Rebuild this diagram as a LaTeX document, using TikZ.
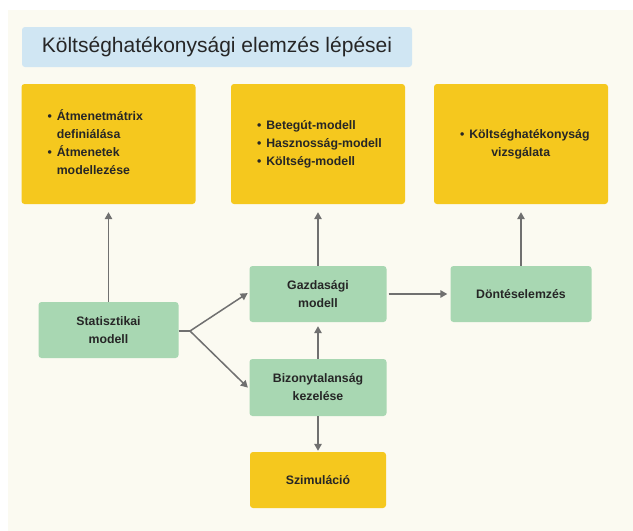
\documentclass[tikz,border=0pt]{standalone}
\usepackage{fontspec}
\setmainfont{Liberation Sans}
\usetikzlibrary{arrows.meta}
\definecolor{panel}{HTML}{FBFAF1}
\definecolor{titlebg}{HTML}{D0E6F3}
\definecolor{stepyellow}{HTML}{F5C81E}
\definecolor{stepgreen}{HTML}{A8D7B2}
\definecolor{linkgray}{HTML}{707070}
\definecolor{ink}{HTML}{262626}
\tikzset{
  box/.style={rounded corners=3pt, inner sep=0pt, text=ink,
    font=\fontsize{12.3}{18}\selectfont\bfseries},
  yellowbox/.style={box, fill=stepyellow, minimum width=174pt, minimum height=120pt,
    text width=122pt, align=left},
  greenbox/.style={box, fill=stepgreen, minimum height=56pt, align=center},
  link/.style={draw=linkgray, line width=1.5pt,
    -{Triangle[length=7pt,width=7.5pt]}},
}
\newcommand{\bul}{\textbullet}
\begin{document}
\begin{tikzpicture}[x=1pt,y=-1pt]
  \useasboundingbox (0,0) rectangle (633,531);
  \fill[white] (0,0) rectangle (633,531);
  \fill[panel] (8,10) rectangle (633,531);

  % heading
  \node[rounded corners=3pt, fill=titlebg, minimum width=390pt, minimum height=40pt,
        text=ink, font=\fontsize{21}{24}\selectfont] (title) at (217,47)
        {Költséghatékonysági elemzés lépései};

  % result boxes
  \node[yellowbox] (y1) at (108.5,144) {%
    \begin{tabular}{@{}l@{\hspace{5pt}}l@{}}
      \bul & Átmenetmátrix\\ & definiálása\\
      \bul & Átmenetek\\ & modellezése
    \end{tabular}};
  \node[yellowbox] (y2) at (318,144) {%
    \begin{tabular}{@{}l@{\hspace{5pt}}l@{}}
      \bul & Betegút-modell\\
      \bul & Hasznosság-modell\\
      \bul & Költség-modell
    \end{tabular}};
  \node[yellowbox] (y3) at (521,144) {%
    \begin{tabular}{@{}l@{\hspace{5pt}}l@{}}
      \bul & Költséghatékonyság\\ & \hspace{22pt}vizsgálata
    \end{tabular}};

  % process steps
  \node[greenbox, minimum width=140pt] (stat) at (108.5,330) {Statisztikai\\modell};
  \node[greenbox, minimum width=137pt] (gaz) at (318,294) {Gazdasági\\modell};
  \node[greenbox, minimum width=141pt] (dont) at (521,294) {Döntéselemzés};
  \node[greenbox, minimum width=137pt, minimum height=57pt] (biz) at (318,387.5)
        {Bizonytalanság\\kezelése};
  \node[greenbox, fill=stepyellow, minimum width=136pt] (szim) at (318,480) {Szimuláció};

  % connectors
  \draw[link, shorten >=8pt] (stat) -- (y1);
  \draw[link, shorten >=8pt] (gaz) -- (y2);
  \draw[link, shorten >=8pt] (dont) -- (y3);
  \draw[link, shorten <=2pt, shorten >=3pt] (gaz) -- (dont);
  \draw[link, shorten >=4pt] (biz) -- (gaz);
  \draw[link, shorten >=1pt] (biz) -- (szim);

  \coordinate (fork) at (190,331);
  \draw[draw=linkgray, line width=1.5pt] (stat.east |- fork) -- (fork);
  \draw[link, shorten >=2pt] (fork) -- ([yshift=2pt]gaz.west);
  \draw[link, shorten >=2pt] (fork) -- ([yshift=-1.5pt]biz.west);
\end{tikzpicture}
\end{document}
